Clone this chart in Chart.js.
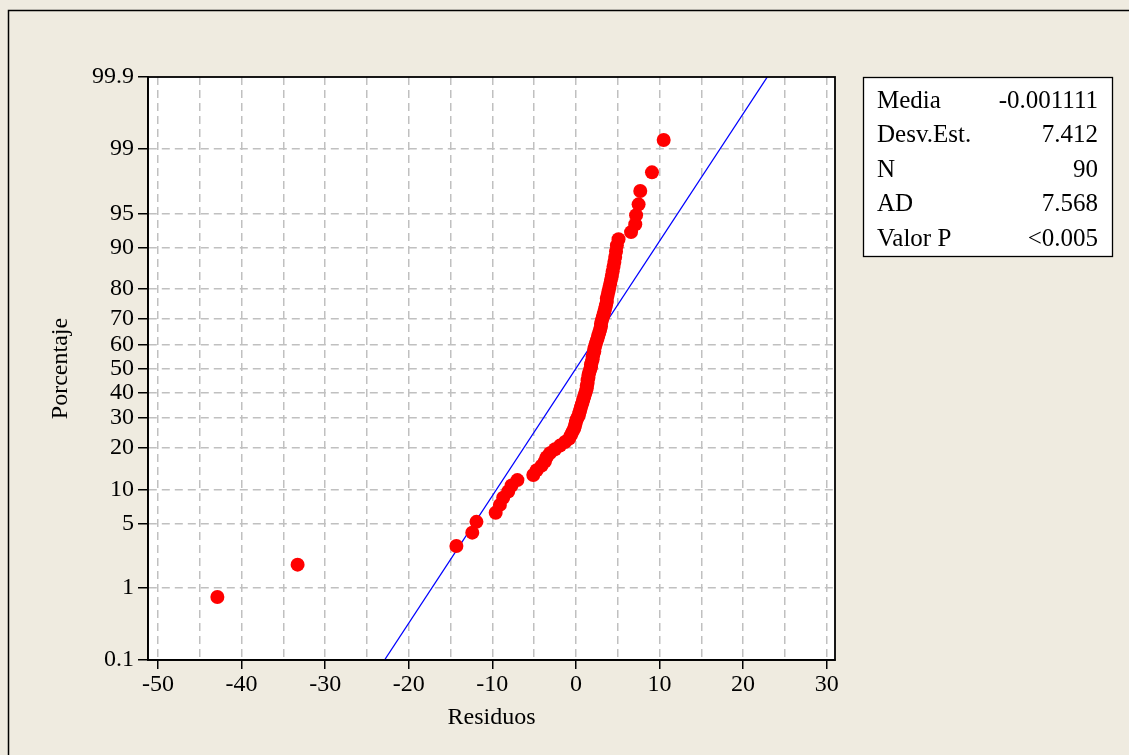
<!DOCTYPE html>
<html>
<head>
<meta charset="utf-8">
<script src="https://cdn.jsdelivr.net/npm/chart.js@4.4.1/dist/chart.umd.min.js"></script>
<style>
  body { margin: 0; background: #efebe0; }
  canvas { display: block; }
</style>
</head>
<body>
<canvas id="myChart" width="1129" height="755"></canvas>
<script>
// residuals, sorted
const residuos = [
  -42.9, -33.3, -14.3, -12.4, -11.9, -9.6, -9.1, -8.7, -8.1, -7.7,
  -7.0, -5.1, -4.7, -4.1, -3.7, -3.5, -3.1, -2.5, -1.9, -1.3,
  -0.8, -0.6, -0.4, -0.2, -0.1, 0.0, 0.1, 0.3, 0.4, 0.5,
  0.6, 0.7, 0.8, 0.9, 1.0, 1.1, 1.2, 1.3, 1.3, 1.4,
  1.4, 1.5, 1.5, 1.6, 1.7, 1.8, 1.8, 1.9, 2.0, 2.0,
  2.1, 2.2, 2.2, 2.3, 2.4, 2.5, 2.6, 2.7, 2.8, 2.9,
  3.0, 3.0, 3.1, 3.2, 3.3, 3.4, 3.5, 3.6, 3.7, 3.7,
  3.8, 3.9, 4.0, 4.1, 4.2, 4.3, 4.4, 4.5, 4.6, 4.7,
  4.8, 4.9, 5.1, 6.6, 7.1, 7.2, 7.5, 7.7, 9.1, 10.5
];
// plotted percentages for each point
const porcentaje = [
  0.77, 1.88, 2.99, 4.09, 5.20, 6.31, 7.41, 8.52, 9.62, 10.73,
  11.84, 12.94, 14.05, 15.15, 16.26, 17.37, 18.47, 19.58, 20.69, 21.79,
  22.90, 24.00, 25.11, 26.22, 27.32, 28.43, 29.54, 30.64, 31.75, 32.85,
  33.96, 35.07, 36.17, 37.28, 38.38, 39.49, 40.60, 41.70, 42.81, 43.92,
  45.02, 46.13, 47.23, 48.34, 49.45, 50.55, 51.66, 52.77, 53.87, 54.98,
  56.08, 57.19, 58.30, 59.40, 60.51, 61.62, 62.72, 63.83, 64.93, 66.04,
  67.15, 68.25, 69.36, 70.46, 71.57, 72.68, 73.78, 74.89, 76.00, 77.10,
  78.21, 79.31, 80.42, 81.53, 82.63, 83.74, 84.85, 85.95, 87.06, 88.16,
  89.27, 90.38, 91.48, 92.59, 93.69, 94.80, 95.91, 97.01, 98.12, 99.23
];
// fitted line ends
const lineaX = [-22.9, 22.9];
const lineaPct = [0.1, 99.9];

const yTicksPct = [0.1, 1, 5, 10, 20, 30, 40, 50, 60, 70, 80, 90, 95, 99, 99.9];
const yTickLabels = ["0.1", "1", "5", "10", "20", "30", "40", "50", "60", "70", "80", "90", "95", "99", "99.9"];
const xTicks = [-50, -45, -40, -35, -30, -25, -20, -15, -10, -5, 0, 5, 10, 15, 20, 25, 30];

const statNames = ["Media", "Desv.Est.", "N", "AD", "Valor P"];
const statValues = ["-0.001111", "7.412", "90", "7.568", "<0.005"];

// inverse normal cdf (Acklam)
function probit(p) {
  const a = [-39.69683028665376, 220.9460984245205, -275.9285104469687, 138.3577518672690, -30.66479806614716, 2.506628277459239];
  const b = [-54.47609879822406, 161.5858368580409, -155.6989798598866, 66.80131188771972, -13.28068155288572];
  const c = [-0.007784894002430293, -0.3223964580411365, -2.400758277161838, -2.549732539343734, 4.374664141464968, 2.938163982698783];
  const d = [0.007784695709041462, 0.3224671290700398, 2.445134137142996, 3.754408661907416];
  const pl = 0.02425;
  let q, r;
  if (p < pl) {
    q = Math.sqrt(-2 * Math.log(p));
    return (((((c[0]*q+c[1])*q+c[2])*q+c[3])*q+c[4])*q+c[5]) / ((((d[0]*q+d[1])*q+d[2])*q+d[3])*q+1);
  }
  if (p > 1 - pl) {
    q = Math.sqrt(-2 * Math.log(1 - p));
    return -(((((c[0]*q+c[1])*q+c[2])*q+c[3])*q+c[4])*q+c[5]) / ((((d[0]*q+d[1])*q+d[2])*q+d[3])*q+1);
  }
  q = p - 0.5;
  r = q * q;
  return (((((a[0]*r+a[1])*r+a[2])*r+a[3])*r+a[4])*r+a[5])*q / (((((b[0]*r+b[1])*r+b[2])*r+b[3])*r+b[4])*r+1);
}

const zMax = probit(0.999);
const font = "Liberation Serif, Times New Roman, serif";
Chart.defaults.color = "#000";
Chart.defaults.font.family = font;
Chart.defaults.font.size = 24;

const puntos = residuos.map((r, i) => ({ x: r, y: probit(porcentaje[i] / 100) }));
const linea = lineaX.map((r, i) => ({ x: r, y: probit(lineaPct[i] / 100) }));

const fondo = {
  id: "fondo",
  beforeDraw(chart) {
    const c = chart.ctx;
    const a = chart.chartArea;
    c.save();
    c.fillStyle = "#efebe0";
    c.fillRect(0, 0, chart.width, chart.height);
    c.strokeStyle = "#000";
    c.lineWidth = 1.5;
    c.strokeRect(8.5, 10.5, 1300, 1000);
    c.fillStyle = "#fff";
    c.fillRect(a.left, a.top, a.right - a.left, a.bottom - a.top);
    c.restore();
  },
  afterDraw(chart) {
    const c = chart.ctx;
    const a = chart.chartArea;
    c.save();
    c.strokeStyle = "#000";
    c.lineWidth = 1.8;
    c.strokeRect(a.left, a.top, a.right - a.left, a.bottom - a.top);
    // stats box
    c.fillStyle = "#fff";
    c.fillRect(863, 77, 249, 179);
    c.lineWidth = 1.3;
    c.strokeRect(863.5, 77.5, 249, 179);
    c.fillStyle = "#000";
    c.font = "25px " + font;
    c.textBaseline = "middle";
    statNames.forEach((s, i) => {
      const y = 101 + i * 34.5;
      c.textAlign = "left";
      c.fillText(s, 877, y);
      c.textAlign = "right";
      c.fillText(statValues[i], 1098, y);
    });
    c.restore();
  }
};

new Chart(document.getElementById("myChart"), {
  type: "scatter",
  data: {
    datasets: [
      {
        data: puntos,
        backgroundColor: "#ff0000",
        borderWidth: 0,
        pointRadius: 7,
        order: 1
      },
      {
        type: "line",
        data: linea,
        borderColor: "#0000ff",
        borderWidth: 1.3,
        pointRadius: 0,
        showLine: true,
        fill: false,
        order: 2
      }
    ]
  },
  options: {
    responsive: false,
    animation: false,
    layout: { padding: { left: 42, top: 77, right: 294, bottom: 19 } },
    plugins: { legend: { display: false }, tooltip: { enabled: false } },
    scales: {
      x: {
        type: "linear",
        min: -51.2,
        max: 31.0,
        afterBuildTicks: s => { s.ticks = xTicks.map(v => ({ value: v })); },
        afterFit: s => { s.height = 76; },
        ticks: {
          padding: 1,
          callback: v => (v % 10 === 0 ? String(v) : "")
        },
        grid: {
          color: "#c0c0c0",
          lineWidth: 1.5,
          tickLength: 9,
          tickColor: ctx => (ctx.tick && ctx.tick.value % 10 === 0 ? "#000" : "rgba(0,0,0,0)"),
          tickWidth: 1.5
        },
        border: { display: true, color: "#000", width: 1.8, dash: [8, 5] },
        title: { display: true, text: "Residuos", font: { size: 24 } }
      },
      y: {
        type: "linear",
        min: -zMax,
        max: zMax,
        afterBuildTicks: s => { s.ticks = yTicksPct.map(p => ({ value: probit(p / 100) })); },
        afterFit: s => { s.width = 106; },
        ticks: {
          padding: 4,
          callback: (v, i) => yTickLabels[i]
        },
        grid: {
          color: ctx => (ctx.index === 0 || ctx.index === yTicksPct.length - 1 ? "rgba(0,0,0,0)" : "#c0c0c0"),
          lineWidth: 1.5,
          tickLength: 10,
          tickColor: "#000",
          tickWidth: 1.5
        },
        border: { display: true, color: "#000", width: 1.8, dash: [8, 5] },
        title: { display: true, text: "Porcentaje", font: { size: 24 } }
      }
    }
  },
  plugins: [fondo]
});
</script>
</body>
</html>
